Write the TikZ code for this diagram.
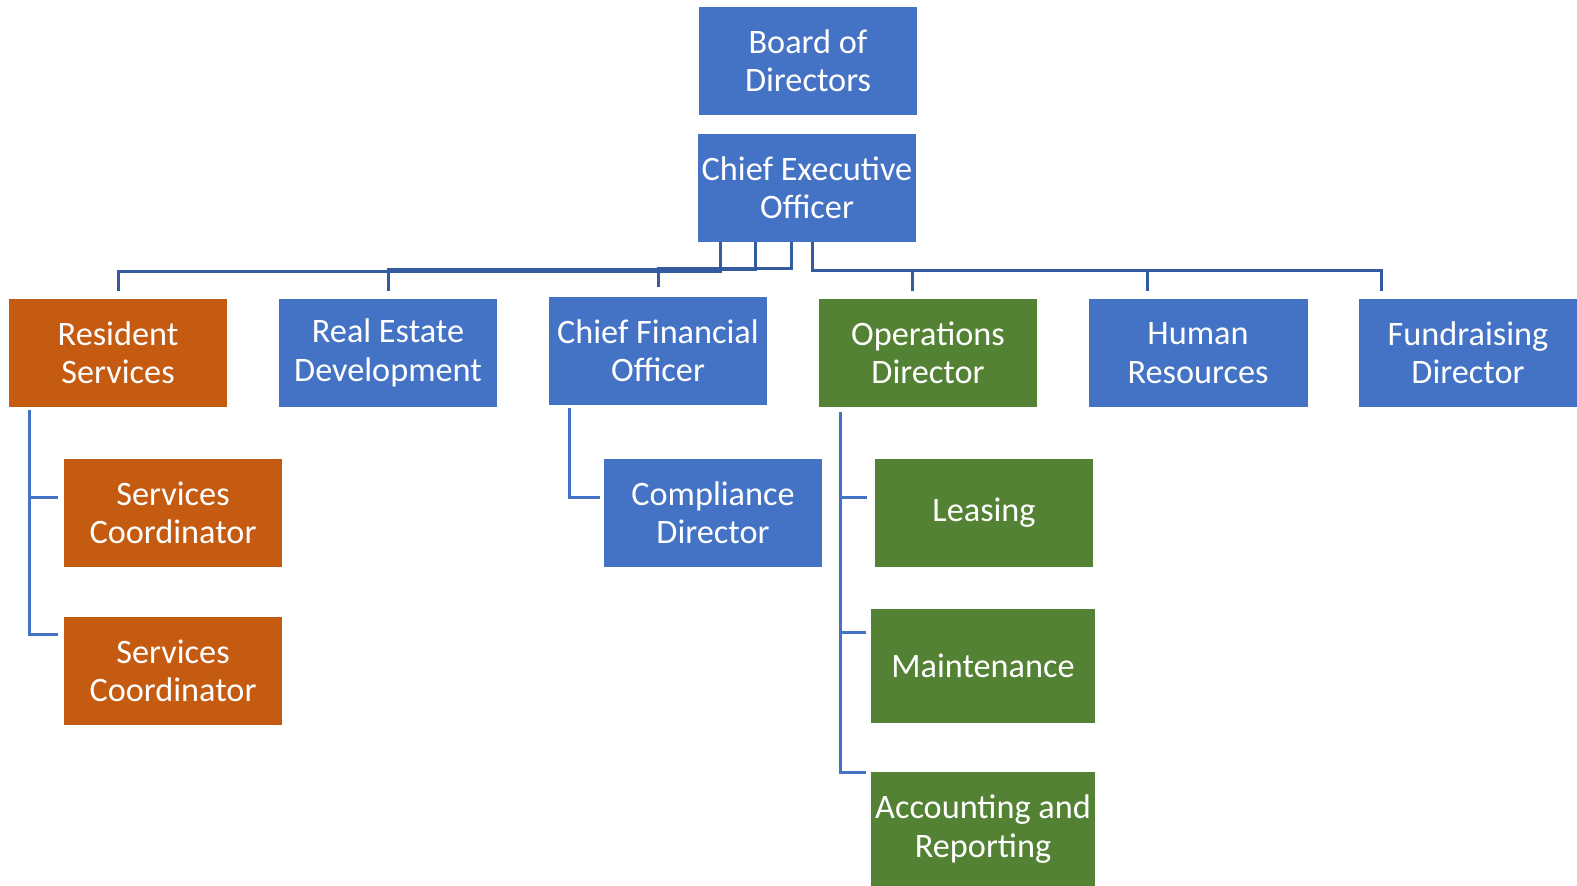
\documentclass[tikz,border=0pt]{standalone}
\usepackage{fontspec}
\setmainfont{Carlito}
\usetikzlibrary{positioning,calc}
\definecolor{boxblue}{RGB}{68,114,196}
\definecolor{boxorange}{RGB}{197,90,17}
\definecolor{boxgreen}{RGB}{84,130,53}
\definecolor{linkblue}{RGB}{52,90,160}
\definecolor{bracketblue}{RGB}{68,114,196}

\begin{document}
\begin{tikzpicture}[x=0.02cm, y=0.02cm,
    box/.style={draw=none, minimum width=4.38cm, minimum height=2.16cm, inner sep=0pt,
        align=center, text=white, font=\fontsize{19.5}{21.8}\selectfont},
    link/.style={draw=linkblue, line width=0.06cm},
    bracket/.style={draw=bracketblue, line width=0.06cm}]
    \useasboundingbox (0,0) rectangle (1577,885);

    \node[box, fill=boxblue] (board) at (808,824) {Board of\\Directors};
    \node[box, fill=boxblue] (ceo) at (807,697) {Chief Executive\\Officer};

    \node[box, fill=boxorange] (res) at (118,532) {Resident\\Services};
    \node[box, fill=boxblue] (red) at (388,532) {Real Estate\\Development};
    \node[box, fill=boxblue] (cfo) at (658,534) {Chief Financial\\Officer};
    \node[box, fill=boxgreen] (ops) at (928,532) {Operations\\Director};
    \node[box, fill=boxblue] (hr) at (1198,532) {Human\\Resources};
    \node[box, fill=boxblue] (fund) at (1468,532) {Fundraising\\Director};

    \node[box, fill=boxorange] (sc1) at (173,372) {Services\\Coordinator};
    \node[box, fill=boxorange] (sc2) at (173,214) {Services\\Coordinator};
    \node[box, fill=boxblue] (comp) at (713,372) {Compliance\\Director};
    \node[box, fill=boxgreen] (lease) at (984,372) {Leasing};
    \node[box, fill=boxgreen, minimum width=4.5cm, minimum height=2.28cm] (maint) at (983,219) {Maintenance};
    \node[box, fill=boxgreen, minimum width=4.5cm, minimum height=2.28cm] (acct) at (983,56) {Accounting and\\Reporting};

    % CEO to first row
    \draw[link] ($(ceo.south west)+(23,0)$) |- ($(res.north)+(0,27)$) -- ($(res.north)+(0,8)$);
    \draw[link] ($(ceo.south west)+(58,0)$) |- ($(red.north)+(0,29)$) -- ($(red.north)+(0,8)$);
    \draw[link] ($(ceo.south west)+(94,0)$) |- ($(cfo.north)+(0,28)$) -- ($(cfo.north)+(0,10)$);
    \draw[link] ($(ceo.south west)+(115,0)$) |- ($(fund.north west)+(23,28)$) -- ($(fund.north west)+(23,8)$);
    \draw[link] ($(ops.north west)+(94,28)$) -- ($(ops.north west)+(94,8)$);
    \draw[link] ($(hr.north west)+(59,28)$) -- ($(hr.north west)+(59,8)$);

    % Resident Services team
    \coordinate (resbus) at ($(res.south west)+(21,-3)$);
    \coordinate (sc1in) at ($(sc1.west)+(-5,15)$);
    \draw[bracket] (resbus) |- ($(sc2.west)+(-5,36)$);
    \draw[bracket] (sc1in -| resbus) -- (sc1in);

    % CFO team
    \draw[bracket] ($(cfo.south west)+(21,-3)$) |- ($(comp.west)+(-3,15)$);

    % Operations team
    \coordinate (opsbus) at ($(ops.south west)+(22,-5)$);
    \coordinate (leasein) at ($(lease.west)+(-7,15)$);
    \coordinate (maintin) at ($(maint.west)+(-4,33)$);
    \draw[bracket] (opsbus) |- ($(acct.west)+(-4,56)$);
    \draw[bracket] (leasein -| opsbus) -- (leasein);
    \draw[bracket] (maintin -| opsbus) -- (maintin);
\end{tikzpicture}
\end{document}
